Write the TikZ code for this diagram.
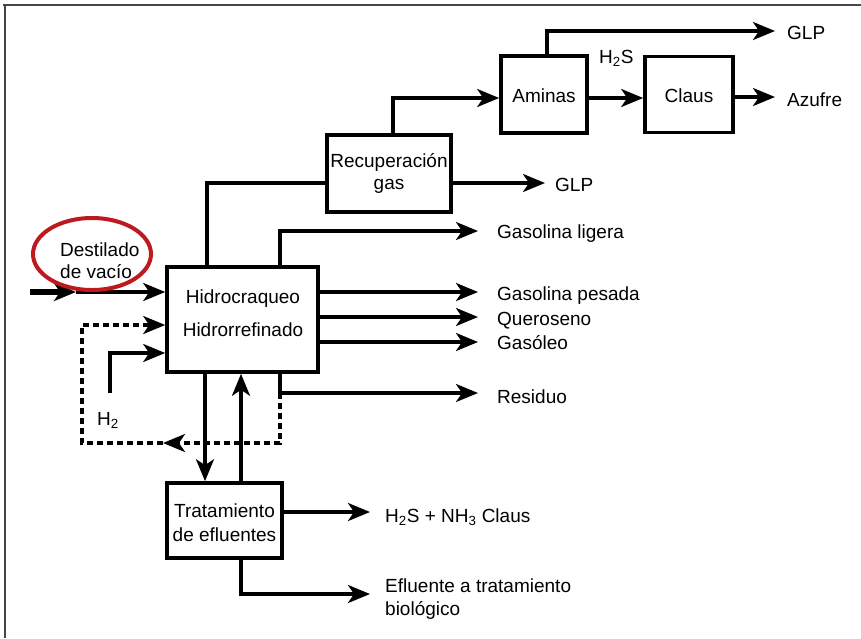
\documentclass[tikz,border=0pt]{standalone}
\usepackage{fontspec}
\setmainfont{Liberation Sans}
\usetikzlibrary{arrows.meta}
\definecolor{ringred}{RGB}{190,25,30}
\definecolor{framegray}{RGB}{70,70,70}
\begin{document}
\begin{tikzpicture}[x=1pt,y=-1pt,
  font=\fontsize{19}{23}\selectfont,
  box/.style={draw, line width=3.6pt, inner sep=0pt},
  lbl/.style={inner sep=0pt, anchor=base west},
  ctr/.style={inner sep=0pt, anchor=base},
  flow/.style={line width=3.2pt, -{Stealth[length=22pt,width=18pt,inset=6pt]}},
  link/.style={line width=3.2pt},
  recyc/.style={dash pattern=on 6pt off 4pt},
  frameline/.style={line width=2.2pt, draw=framegray},
  ring/.style={line width=4pt, draw=ringred}]
\useasboundingbox (0,0) rectangle (861,638);

% page frame (top and left edges)
\draw[frameline] (3,5) -- (861,5);
\draw[frameline] (5,4) -- (5,638);

% process units
\node[box, minimum width=151pt, minimum height=105pt] (hc) at (242.5,319.5) {};
\node[box, minimum width=124pt, minimum height=77pt] (rg) at (389,173.5) {};
\node[box, minimum width=86pt, minimum height=77pt] (am) at (544,94.5) {};
\node[box, minimum width=88pt, minimum height=76pt] (cl) at (689,94.5) {};
\node[box, minimum width=115pt, minimum height=75pt] (te) at (224.5,520.5) {};

% unit captions
\node[ctr] (hct1) at (243,303) {Hidrocraqueo};
\node[ctr] (hct2) at (243,336) {Hidrorrefinado};
\node[ctr] (rgt1) at (389,167) {Recuperación};
\node[ctr] (rgt2) at (389,189) {gas};
\node[ctr] (amt) at (544,102) {Aminas};
\node[ctr] (clt) at (689,102) {Claus};
\node[ctr] (tet1) at (224.5,517) {Tratamiento};
\node[ctr] (tet2) at (224.5,541) {de efluentes};

% helper points for the connectors
\coordinate (feedS) at (30,292);
\coordinate (feedM) at (76,292);
\coordinate (resC) at (280,393);
\coordinate (resE) at (478,393);
\coordinate (rcyR) at (280,443);
\coordinate (rcyM) at (163,443);
\coordinate (rcyL) at (82,443);
\coordinate (rcyT) at (82,325);
\coordinate (h2S) at (110,393);
\coordinate (h2T) at (110,353);
\coordinate (dnX) at (205,400);
\coordinate (upX) at (241,400);
\coordinate (glC) at (280,231);
\coordinate (glE) at (478,231);
\coordinate (gpE) at (478,292);
\coordinate (qE) at (478,317);
\coordinate (goE) at (478,342);
\coordinate (gasC) at (207,183);
\coordinate (glpE) at (545,183);
\coordinate (amC) at (393,98);
\coordinate (glp2C) at (547,31);
\coordinate (glp2E) at (775,31);
\coordinate (sY) at (615,98);
\coordinate (azE) at (775,97);
\coordinate (clausE) at (370,512);
\coordinate (bioC) at (241,594);
\coordinate (bioE) at (370,594);

% feed
\draw[flow, line width=5.5pt] (feedS) -- (feedM);
\draw[flow] (feedM) -- (hc.west |- feedM);
% recycle loop
\draw[flow, recyc] (resC) -- (rcyR) -- (rcyM);
\draw[flow, recyc] (rcyM) -- (rcyL) -- (rcyT) -- (hc.west |- rcyT);
% hydrogen
\draw[flow] (h2S) -- (h2T) -- (hc.west |- h2T);
% residue
\draw[flow] (hc.south -| resC) -- (resC) -- (resE);
% to and from effluent treatment
\draw[flow] (hc.south -| dnX) -- (te.north -| dnX);
\draw[flow] (te.north -| upX) -- (hc.south -| upX);
% products
\draw[flow] (hc.north -| glC) -- (glC) -- (glE);
\draw[flow] (hc.east |- gpE) -- (gpE);
\draw[flow] (hc.east |- qE) -- (qE);
\draw[flow] (hc.east |- goE) -- (goE);
% gas line
\draw[link] (hc.north -| gasC) -- (gasC) -- (rg.west |- gasC);
\draw[flow] (rg.east |- glpE) -- (glpE);
\draw[flow] (rg.north -| amC) -- (amC) -- (am.west |- amC);
\draw[flow] (am.north -| glp2C) -- (glp2C) -- (glp2E);
\draw[flow] (am.east |- sY) -- (cl.west |- sY);
\draw[flow] (cl.east |- azE) -- (azE);
% effluent outputs
\draw[flow] (te.east |- clausE) -- (clausE);
\draw[flow] (te.south -| bioC) -- (bioC) -- (bioE);

% stream labels
\node[lbl] (lGL) at (497,238) {Gasolina ligera};
\node[lbl] (lGP) at (497,300) {Gasolina pesada};
\node[lbl] (lQ) at (497,325) {Queroseno};
\node[lbl] (lGO) at (497,349) {Gasóleo};
\node[lbl] (lR) at (497,403) {Residuo};
\node[lbl] (lGLP1) at (555,191) {GLP};
\node[lbl] (lGLP2) at (787,39) {GLP};
\node[lbl] (lAz) at (787,106) {Azufre};
\node[lbl] (lH2S) at (599,63) {H\textsubscript{2}S};
\node[lbl] (lH2) at (97,425) {H\textsubscript{2}};
\node[lbl] (lCl) at (385,522) {H\textsubscript{2}S + NH\textsubscript{3} Claus};
\node[lbl] (lEf1) at (385,592) {Efluente a tratamiento};
\node[lbl] (lEf2) at (385,615) {biológico};
\node[lbl] (lD1) at (60,256) {Destilado};
\node[lbl] (lD2) at (60,278) {de vacío};

% highlight ring round the feed name
\draw[ring] (92,254) ellipse [x radius=59pt, y radius=36pt];
\end{tikzpicture}
\end{document}
